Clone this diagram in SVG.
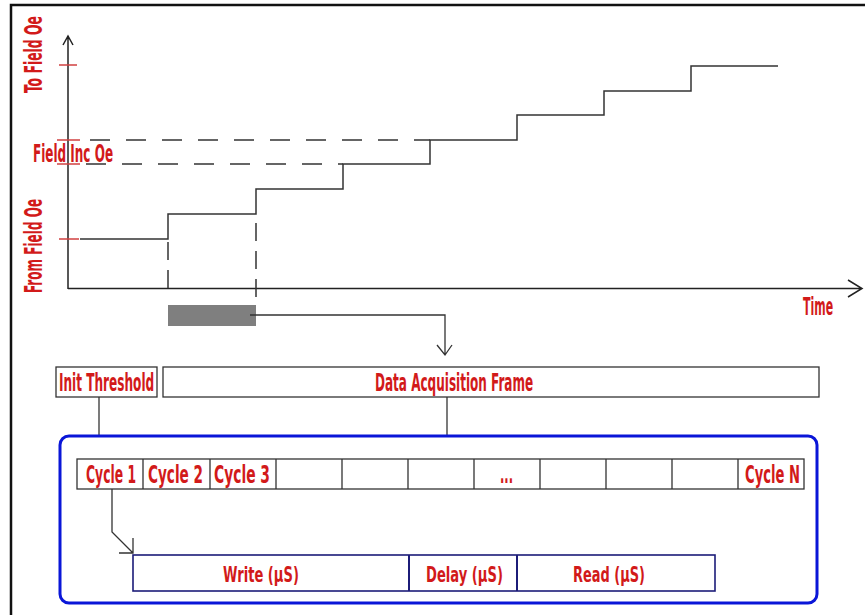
<svg xmlns="http://www.w3.org/2000/svg" width="865" height="615" viewBox="0 0 865 615">
  <style>
    .lbl { font-family: "DejaVu Sans Condensed", "DejaVu Sans", sans-serif; font-stretch: condensed; font-weight: bold; fill: #d21a1a; font-size: 24px; }
    .mid { font-size: 22px; }
    .axis { stroke: #222; stroke-width: 1.5; fill: none; }
    .step { stroke: #333; stroke-width: 1.5; fill: none; }
    .dash { stroke: #333; stroke-width: 1.5; fill: none; stroke-dasharray: 20 16; }
    .vdash { stroke: #333; stroke-width: 1.5; fill: none; stroke-dasharray: 18 10; }
    .tick { stroke: #d04040; stroke-width: 1.5; }
    .box { fill: #fff; stroke: #333; stroke-width: 1.3; }
    .seg { fill: #fff; stroke: #1c1c78; stroke-width: 1.6; }
    .wire { stroke: #333; stroke-width: 1.3; fill: none; }
  </style>

  <rect width="865" height="615" fill="#fff"/>
  <!-- picture frame (left and top edges) -->
  <path d="M11,616 V5 H866" fill="none" stroke="#111" stroke-width="2.5"/>

  <!-- field vs time chart -->
  <g id="chart">
    <path class="axis" d="M68,289 V36 M63,45 L68,36 L73,45"/>
    <path class="axis" d="M68,288.5 H862 M848,280 L862,288.5 L848,297"/>
    <line class="tick" x1="59" y1="65" x2="77" y2="65"/>
    <line class="tick" x1="57" y1="140" x2="80" y2="140"/>
    <line class="tick" x1="57" y1="164" x2="80" y2="164"/>
    <line class="tick" x1="59" y1="239" x2="79" y2="239"/>
    <path class="dash" d="M90,140 H430"/>
    <path class="dash" d="M86,164 H343"/>
    <path class="step" d="M80,239 H168 V214 H256 V189 H343 V164 H430 V140 H517 V115 H604 V91 H691 V66 H778"/>
    <path class="vdash" d="M168,242 V298"/>
    <path class="vdash" d="M256,223 V298"/>
    <rect x="168" y="305" width="88" height="21" fill="#7f7f7f"/>
    <text class="lbl" transform="translate(42,93) rotate(-90) scale(0.57,1)" textLength="135" lengthAdjust="spacingAndGlyphs">To Field Oe</text>
    <text class="lbl" transform="translate(42,293) rotate(-90) scale(0.55,1)" textLength="171" lengthAdjust="spacingAndGlyphs">From Field Oe</text>
    <text class="lbl" transform="translate(33,162) scale(0.53,1)" textLength="151" lengthAdjust="spacingAndGlyphs">Field Inc Oe</text>
    <text class="lbl" transform="translate(803,315) scale(0.51,1)" textLength="59" lengthAdjust="spacingAndGlyphs">Time</text>
  </g>

  <!-- connectors -->
  <g id="connectors">
    <path class="wire" d="M250,315 H445 V355 M437,345 L445,355 L452,345"/>
    <path class="wire" d="M99,397 V436"/>
    <path class="wire" d="M447,397 V436"/>
    <path class="wire" d="M112,489 V532 L133,553 M119,553 H133 V538"/>
  </g>

  <g id="init-threshold">
    <rect class="box" x="56" y="367" width="101" height="30"/>
    <text class="lbl" transform="translate(59,391) scale(0.56,1)" textLength="170" lengthAdjust="spacingAndGlyphs">Init Threshold</text>
  </g>

  <g id="data-acquisition-frame">
    <rect class="box" x="163" y="367" width="656" height="30"/>
    <text class="lbl" transform="translate(375,391) scale(0.553,1)" textLength="286" lengthAdjust="spacingAndGlyphs">Data Acquisition Frame</text>
  </g>

  <g id="cycle-frame">
    <rect x="60" y="436" width="757" height="167" rx="9" fill="none" stroke="#0a16d8" stroke-width="3"/>
  </g>

  <g id="cycles">
    <rect class="box" x="77" y="459" width="727" height="30"/>
    <path class="wire" d="M143,459 V489 M210,459 V489 M276,459 V489 M342,459 V489 M408,459 V489 M474,459 V489 M540,459 V489 M606,459 V489 M672,459 V489 M738,459 V489"/>
    <text class="lbl" transform="translate(86,483) scale(0.572,1)" textLength="87.4" lengthAdjust="spacingAndGlyphs">Cycle 1</text>
    <text class="lbl" transform="translate(148,483) scale(0.63,1)" textLength="87.3" lengthAdjust="spacingAndGlyphs">Cycle 2</text>
    <text class="lbl" transform="translate(214,483) scale(0.64,1)" textLength="87.5" lengthAdjust="spacingAndGlyphs">Cycle 3</text>
    <text class="lbl" transform="translate(500,483) scale(0.53,1)" textLength="24.5" lengthAdjust="spacingAndGlyphs">...</text>
    <text class="lbl" transform="translate(745,483) scale(0.61,1)" textLength="90" lengthAdjust="spacingAndGlyphs">Cycle N</text>
  </g>

  <g id="cycle-detail">
    <rect class="seg" x="133" y="555" width="582" height="36"/>
    <path d="M409,555 V591 M517,555 V591" stroke="#1c1c78" stroke-width="2"/>
    <text class="lbl mid" transform="translate(223,582) scale(0.66,1)" textLength="115" lengthAdjust="spacingAndGlyphs">Write (µS)</text>
    <text class="lbl mid" transform="translate(426,582) scale(0.66,1)" textLength="116.5" lengthAdjust="spacingAndGlyphs">Delay (µS)</text>
    <text class="lbl mid" transform="translate(573,582) scale(0.66,1)" textLength="109" lengthAdjust="spacingAndGlyphs">Read (µS)</text>
  </g>
</svg>
